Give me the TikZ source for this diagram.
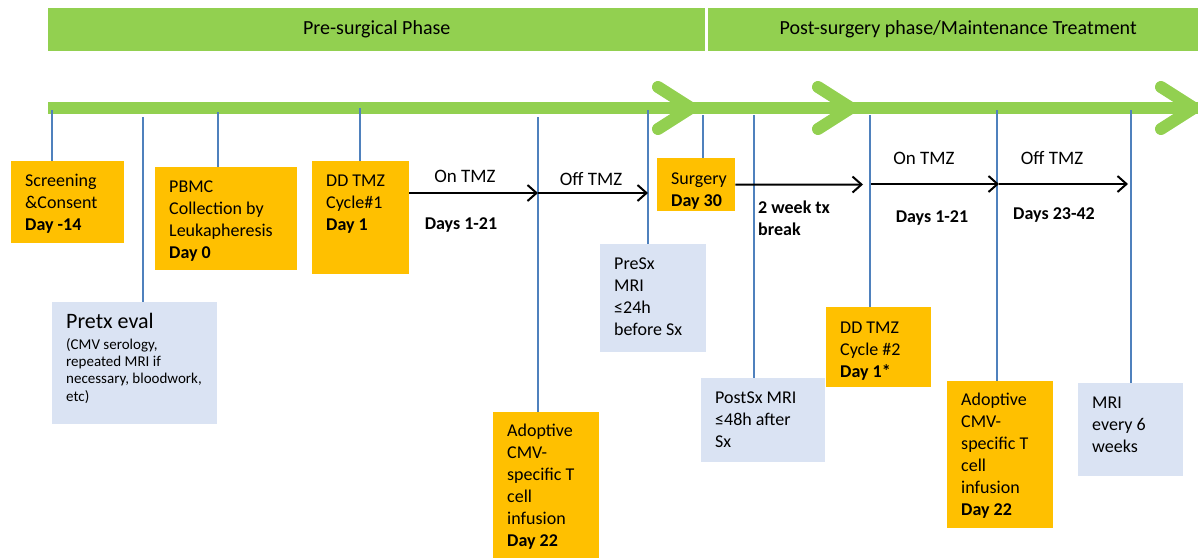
\documentclass[tikz,border=0pt]{standalone}
\usepackage{fontspec}
\setmainfont{Carlito}
\usetikzlibrary{arrows.meta}
\definecolor{phasegreen}{HTML}{92D050}
\definecolor{dayorange}{HTML}{FFC000}
\definecolor{mriblue}{HTML}{DAE3F3}
\definecolor{tickblue}{HTML}{4F81BD}
\tikzset{
    phasebar/.style={fill=phasegreen, anchor=north west, inner sep=0pt,
        minimum height=43pt, font=\fontsize{20}{24}\selectfont},
    evbox/.style={anchor=north west, align=flush left, inner xsep=14pt, inner ysep=0pt,
        text height=25pt, font=\fontsize{18}{22}\selectfont},
    daybox/.style={evbox, fill=dayorange},
    mribox/.style={evbox, fill=mriblue},
    tickline/.style={tickblue, line width=1.6pt},
    txarrow/.style={black, line width=2pt, -{Straight Barb[length=9pt,width=16pt]}},
    tmzlabel/.style={anchor=base, inner sep=0pt, font=\fontsize{19}{22}\selectfont},
    daylabel/.style={anchor=base, inner sep=0pt, font=\fontsize{18}{22}\selectfont\bfseries}
}
\begin{document}
\begin{tikzpicture}[x=1pt,y=-1pt]
    % Define dimensions
    \def\lineY{108}
    \useasboundingbox (0,0) rectangle (1198,557);
    % Phase bars on top
    \node[phasebar, minimum width=657pt] (pre) at (48,8) {Pre-surgical Phase};
    \node[phasebar, minimum width=500pt] (post) at (708,8) {Post-surgery phase/Maintenance Treatment};
    % Green time line with chevrons
    \draw[phasegreen, line width=12pt] (48,\lineY) -- (1198,\lineY);
    \foreach \cx in {658,818,1161}
        \draw[phasegreen, line width=12pt, line cap=round, line join=round]
            (\cx,\lineY-21) -- (\cx+33,\lineY) -- (\cx,\lineY+21);
    % Event boxes
    \node[daybox, text width=85pt, text depth=57pt] (screen) at (11,161)
        {Screening\\\&Consent\\\textbf{Day -14}};
    \node[daybox, text width=114pt, text depth=78pt] (pbmc) at (155,167)
        {PBMC\\Collection by\\Leukapheresis\\\textbf{Day 0}};
    \node[daybox, text width=69pt, text depth=88pt] (dd1) at (312,161)
        {DD TMZ\\Cycle\#1\\\textbf{Day 1}};
    \node[mribox, text width=137pt, text height=26pt, text depth=96pt] (pretx) at (52,302)
        {{\fontsize{22}{26}\selectfont Pretx eval}\\[4pt]\fontsize{15}{17.2}\selectfont
         (CMV serology,\\repeated MRI if\\\mbox{necessary, bloodwork,}\\etc)\par};
    \node[daybox, text width=78pt, text height=24pt, text depth=124pt] (adopt1) at (493,412)
        {Adoptive\\CMV-\\specific T\\cell\\infusion\\\textbf{Day 22}};
    \node[mribox, text width=78pt, text depth=83pt] (presx) at (600,244)
        {PreSx\\MRI\\≤24h\\before Sx};
    \node[daybox, text width=50pt, text height=26pt, text depth=27pt] (surgery) at (657,158)
        {Surgery\\\mbox{\textbf{Day 30}}};
    \node[mribox, text width=96pt, text depth=59pt] (postsx) at (701,378)
        {PostSx MRI\\≤48h after\\Sx};
    \node[daybox, text width=77pt, text height=26pt, text depth=54pt] (dd2) at (826,307)
        {DD TMZ\\Cycle \#2\\\textbf{Day 1*}};
    \node[daybox, text width=78pt, text height=24pt, text depth=123pt] (adopt2) at (947,381)
        {Adoptive\\CMV-\\specific T\\cell\\infusion\\\textbf{Day 22}};
    \node[mribox, text width=77pt, text depth=68pt] (mri) at (1078,383)
        {MRI\\every 6\\weeks};
    % Blue ticks from the time line down to the boxes
    \foreach \tx/\ty/\bx in {52/110/screen, 143/117/pretx, 218/112/pbmc, 360/108/dd1,
            538/117/adopt1, 648/110/presx, 703/115/surgery, 754/115/postsx,
            870/115/dd2, 997/110/adopt2, 1131/110/mri}{
        \coordinate (tk-\bx) at (\tx,\ty);
        \draw[tickline] (tk-\bx) -- (tk-\bx |- \bx.north);
    }
    % Treatment arrows
    \coordinate (m1) at (538,193);
    \coordinate (m2) at (648,193);
    \coordinate (m3) at (863,184.5);
    \coordinate (m4) at (871,184);
    \coordinate (m5) at (999,184);
    \coordinate (m6) at (1128,184);
    \draw[txarrow] (dd1.east |- m1) -- (m1);
    \draw[txarrow] (m1) -- (m2);
    \draw[txarrow] (surgery.east) -- (m3);
    \draw[txarrow] (m4) -- (m5);
    \draw[txarrow] (m5) -- (m6);
    % Labels on the arrows
    \node[tmzlabel] (on1) at (465,182) {On TMZ};
    \node[daylabel] (days1) at (461,229) {Days 1-21};
    \node[tmzlabel] (off1) at (591,185) {Off TMZ};
    \node[daylabel, anchor=base west, align=flush left, text width=80pt] (brk) at (758,213)
        {2 week tx\\break};
    \node[tmzlabel] (on2) at (924,164) {On TMZ};
    \node[daylabel] (days2) at (932,222) {Days 1-21};
    \node[tmzlabel] (off2) at (1052,164) {Off TMZ};
    \node[daylabel] (days3) at (1054,219) {Days 23-42};
\end{tikzpicture}
\end{document}
